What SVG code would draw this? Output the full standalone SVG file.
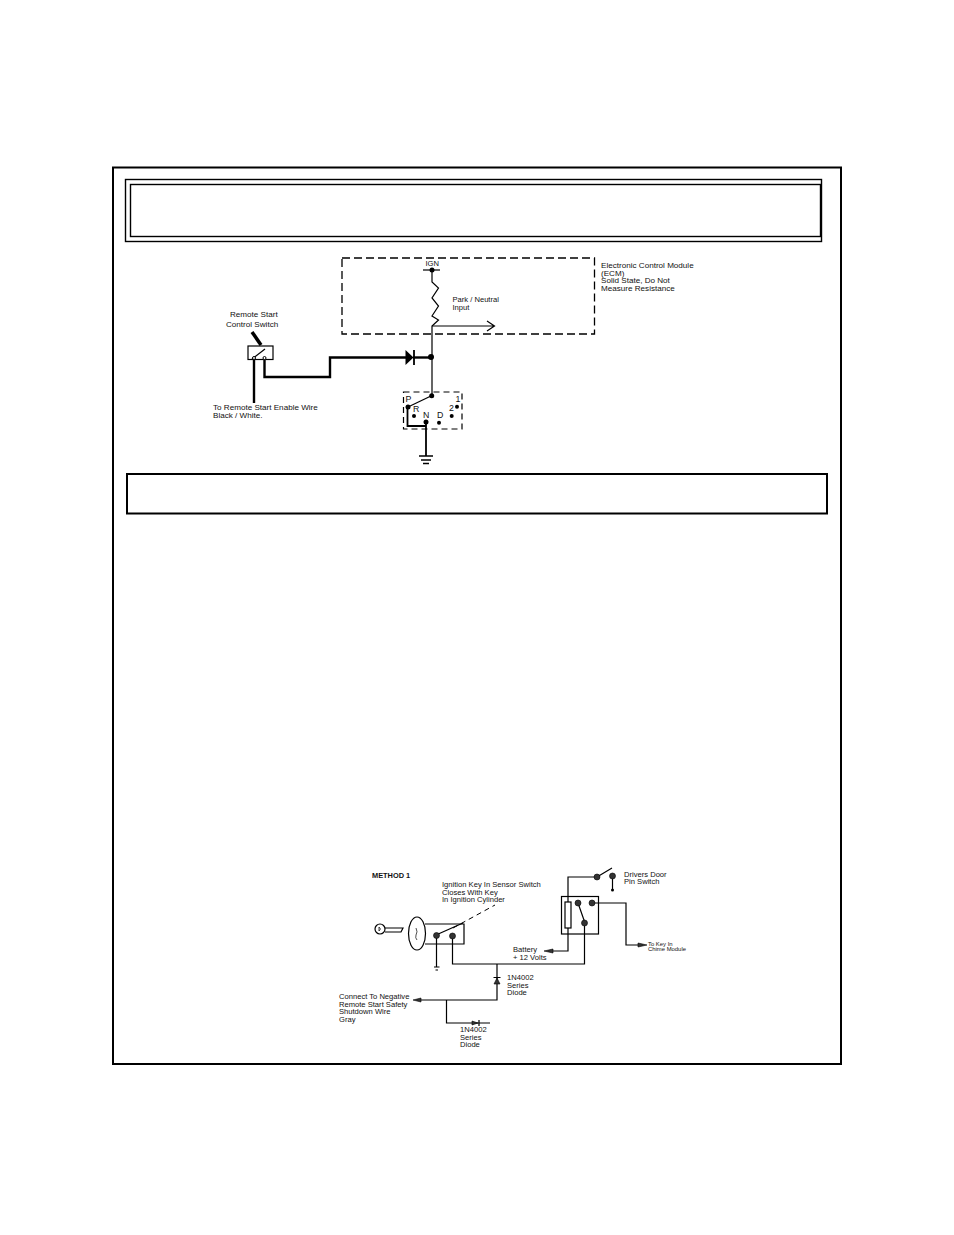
<svg xmlns="http://www.w3.org/2000/svg" width="954" height="1235" viewBox="0 0 954 1235">
<style>
text{font-family:"Liberation Sans",Arial,sans-serif;font-size:8.1px;fill:#111}
.s{font-size:7.6px}
.p{font-size:8.8px}
.xs{font-size:5.9px}
.w{fill:none;stroke:#000;stroke-width:1.2}
.t{fill:none;stroke:#000;stroke-width:2.4}
.m{fill:none;stroke:#000;stroke-width:1.8}
.d{fill:none;stroke:#000;stroke-width:1.3;stroke-dasharray:8 4}
.f{fill:none;stroke:#000;stroke-width:1.4}
.g{fill:#333;stroke:#000;stroke-width:.6}
</style>
<rect width="954" height="1235" fill="#fff"/>
<g id="frames">
<path class="f" d="M113 167.500H841V1064H113Z" style="stroke-width:2"/>
<rect x="125.500" y="179.500" width="696" height="62" class="f"/>
<rect x="130.500" y="184.500" width="690" height="52" class="f"/>
<rect x="127" y="474" width="700" height="39.500" class="f" style="stroke-width:2"/>
</g>
<g id="connectors">
<path class="w" d="M432 270V282L438.500 288L432 298L438.500 306L432 316L438.500 320L432 326V395"/>
<path class="w" d="M423 270H440"/>
<path class="w" d="M432 326H494M487 321L494.500 326L487 331"/>
<path class="t" d="M264.500 360V377H330V357.500H406"/>
<path class="t" d="M254 360V403"/>
<path class="t" d="M413 357.500H432"/>
<path class="w" d="M432 395.500L408 407"/>
<path class="m" d="M407.500 407V426H426"/>
<path class="m" d="M426 423V456"/>
<path d="M252 332L261 345" fill="none" stroke="#000" stroke-width="3.500"/>
<path class="w" d="M252 359L265 349"/>
<path class="w" d="M436 935L463 923"/>
<path class="w" d="M436.500 936V967M434 967H439.500M435.500 970H438"/>
<path class="w" d="M452.500 936V964H584.500V923"/>
<path class="w" d="M568 902V877H597M597 877L612 868"/>
<path class="w" d="M612.500 876V890"/>
<path class="w" d="M568 928V951H553"/>
<path class="w" d="M578 903L585 923"/>
<path class="w" d="M592 903H626V945H640"/>
<path class="w" d="M497 964V1000H420"/>
<path class="w" d="M446.500 1000V1023H490"/>
<path class="w" d="M493.500 977.500H500.500M479 1020V1026"/>
<path class="d" d="M453 928L495 905" style="stroke-width:1;stroke-dasharray:5 4"/>
<polygon points="413,1000 421,998 421,1002" class="g"/>
<polygon points="544,951 553,949 553,953" class="g"/>
<polygon points="647,945 638,943 638,947" class="g"/>
<polygon points="494,984 500,984 497,978" class="g"/>
<polygon points="478,1023 472,1021 472,1025" class="g"/>
</g>
<g id="ecm"><rect x="342" y="258" width="252.500" height="76" class="d"/><text x="425.500" y="266" class="s">IGN</text><circle cx="432" cy="270" r="2.500"/><text x="452.500" y="301.500" class="s">Park / Neutral</text><text x="452.500" y="310" class="s">Input</text><text x="601" y="268">Electronic Control Module</text><text x="601" y="276">(ECM)</text><text x="601" y="283">Solid State, Do Not</text><text x="601" y="291">Measure Resistance</text></g>
<g id="remote-switch"><rect x="248" y="346" width="25" height="13.500" class="w" fill="none"/><circle cx="254" cy="358" r="1.500" fill="#fff" stroke="#000"/><circle cx="264.500" cy="358" r="1.500" fill="#fff" stroke="#000"/><text x="230" y="316.500">Remote Start</text><text x="226" y="327">Control  Switch</text><text x="213" y="409.500">To Remote Start Enable Wire</text><text x="213" y="417.500">Black / White.</text></g>
<g id="diode"><polygon points="405.500,350 405.500,365 413.500,357.500"/><path d="M414 350V365" class="m"/><circle cx="431" cy="357" r="3"/></g>
<g id="selector"><rect x="403.500" y="392" width="58.500" height="37" class="d" style="stroke-width:1.200;stroke-dasharray:6 4"/><circle cx="431.700" cy="395.700" r="2.500"/><circle cx="408" cy="407" r="2.500"/><circle cx="414" cy="416" r="2"/><circle cx="426" cy="422" r="2.500"/><circle cx="439" cy="422.700" r="2"/><circle cx="451.700" cy="416" r="2"/><circle cx="457" cy="406.700" r="2"/><text x="405.500" y="402" class="p">P</text><text x="413" y="411.500" class="p">R</text><text x="423" y="418" class="p">N</text><text x="437" y="418" class="p">D</text><text x="449" y="411" class="p">2</text><text x="455.500" y="402" class="p">1</text><path d="M419 456H433M421 460H431M423 463.500H429" class="m" style="stroke-width:1.300"/></g>
<g id="key"><circle cx="380" cy="929" r="5" class="w" fill="none"/><path d="M379 927V931Q382 929 379 927" class="w" style="stroke-width:.7"/><path d="M385 928H403L401 932H385" class="w"/><ellipse cx="417" cy="933.500" rx="8.500" ry="16.500" class="w" fill="none"/><path d="M416 928Q418 932 416 935Q415 938 417 940" class="w" style="stroke-width:.7"/></g>
<g id="key-switch"><path d="M425 924H464V944H425" class="w"/><circle cx="436.500" cy="935.500" r="3" class="g"/><circle cx="452.500" cy="936" r="3" class="g"/><text x="372" y="878" style="font-weight:700;font-size:7.400px">METHOD 1</text><text x="442" y="887" class="s">Ignition Key In Sensor Switch</text><text x="442" y="895" class="s">Closes With Key</text><text x="442" y="902" class="s">In Ignition Cylinder</text></g>
<g id="relay"><rect x="561.500" y="896.500" width="37" height="37.500" class="w"/><rect x="565" y="902" width="6" height="26" class="w" fill="#fff"/><circle cx="578" cy="903" r="3" class="g"/><circle cx="592" cy="903" r="3" class="g"/><circle cx="584.500" cy="923" r="3" class="g"/></g>
<g id="door-switch"><circle cx="597" cy="877" r="3" class="g"/><circle cx="612.500" cy="876" r="3" class="g"/><circle cx="612.500" cy="890" r="1.500"/><text x="624" y="876.500" class="s">Drivers Door</text><text x="624" y="884" class="s">Pin Switch</text></g>
<g id="labels"><text x="513" y="951.500" class="s">Battery</text><text x="513" y="959.500" class="s">+ 12 Volts</text><text x="648" y="945.500" class="xs">To Key In</text><text x="648" y="950.500" class="xs">Chime  Module</text><text x="507" y="980" class="s">1N4002</text><text x="507" y="988" class="s">Series</text><text x="507" y="995" class="s">Diode</text><text x="339" y="999" class="s">Connect To Negative</text><text x="339" y="1007" class="s">Remote Start Safety</text><text x="339" y="1014" class="s">Shutdown Wire</text><text x="339" y="1022" class="s">Gray</text><text x="460" y="1032" class="s">1N4002</text><text x="460" y="1040" class="s">Series</text><text x="460" y="1047" class="s">Diode</text></g>
</svg>
